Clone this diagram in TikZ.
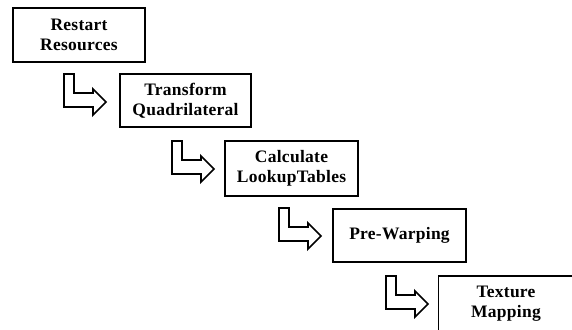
\documentclass[tikz,border=0pt]{standalone}
\usepackage{fontspec}
\setmainfont{Liberation Serif}[LetterSpace=1.5]
\begin{document}
\begin{tikzpicture}[x=1pt,y=-1pt,
  stepbox/.style={draw=black, line width=1.7pt, fill=white, inner sep=0pt,
    align=center, font=\bfseries\fontsize{17.5}{20}\selectfont},
  bentarrow/.pic={
    \draw[line width=1.7pt, line join=miter, fill=white]
      (0,0) -- (10,0) -- (10,19) -- (29,19) -- (29,15) -- (42,28)
      -- (29,41) -- (29,33) -- (0,33) -- cycle;
  }]
\useasboundingbox (0,0) rectangle (572,329);
\clip (0,0) rectangle (572,329);
\node[stepbox, minimum width=132pt, minimum height=54pt] (b1) at (79,35) {Restart\\Resources};
\node[stepbox, minimum width=131pt, minimum height=53pt] (b2) at (185.5,100.5) {Transform\\Quadrilateral};
\node[stepbox, minimum width=133pt, minimum height=55pt] (b3) at (291.5,168.5) {Calculate\\LookupTables};
\node[stepbox, minimum width=133pt, minimum height=53pt] (b4) at (399.5,235.5) {Pre-Warping};
\node[stepbox, minimum width=135pt, minimum height=56pt] (b5) at (506,304) {Texture\\Mapping};
\coordinate (a1) at (64,74);
\coordinate (a2) at (172,141);
\coordinate (a3) at (279,208);
\coordinate (a4) at (386,276);
\pic at (a1) {bentarrow};
\pic at (a2) {bentarrow};
\pic at (a3) {bentarrow};
\pic at (a4) {bentarrow};
\end{tikzpicture}
\end{document}
